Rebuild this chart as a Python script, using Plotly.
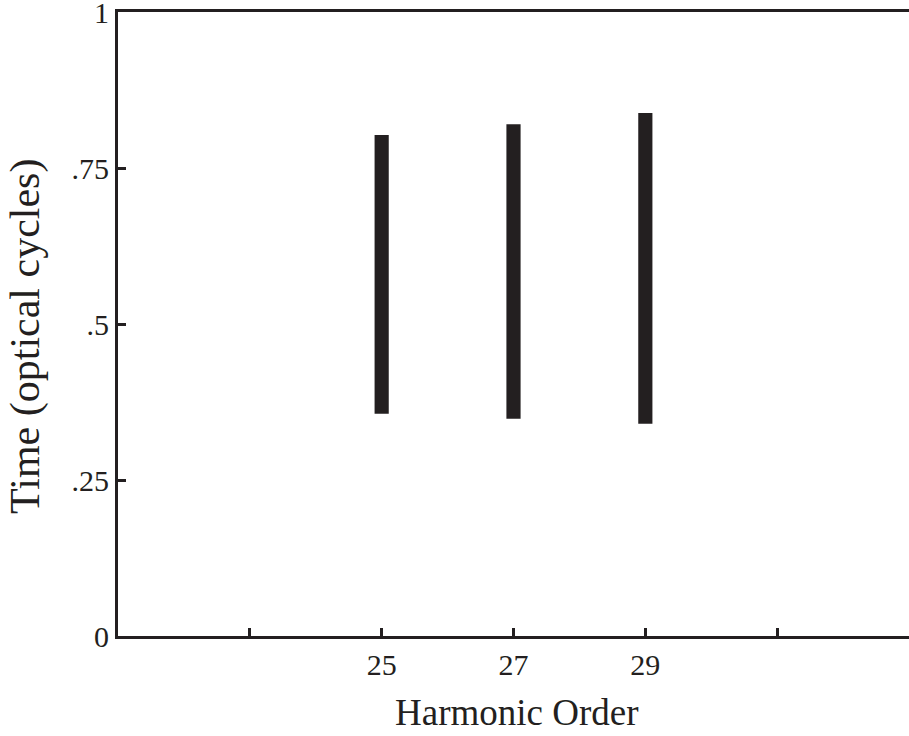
import plotly.graph_objects as go

harmonics = [25, 27, 29]
t_start = [0.356, 0.348, 0.340]
t_end = [0.803, 0.820, 0.838]

x_tickvals = [23, 25, 27, 29, 31]
x_ticktext = ["", "25", "27", "29", ""]
y_tickvals = [0, 0.25, 0.5, 0.75, 1]
y_ticktext = ["0", ".25", ".5", ".75", "1"]

ink = "#231f20"
font = "Liberation Serif"

fig = go.Figure()
fig.add_trace(go.Bar(
    x=harmonics,
    base=t_start,
    y=[e - s for s, e in zip(t_start, t_end)],
    width=0.215,
    marker=dict(color=ink, line=dict(width=0)),
    hoverinfo="skip",
))

fig.update_layout(
    width=909, height=736,
    margin=dict(l=118, r=0, t=12, b=100, autoexpand=False),
    paper_bgcolor="white", plot_bgcolor="white",
    showlegend=False,
    font=dict(family=font, color=ink),
    xaxis=dict(
        range=[21, 33], tickvals=x_tickvals, ticktext=x_ticktext,
        showgrid=False, zeroline=False, automargin=False,
        showline=True, linecolor=ink, linewidth=3, mirror=True,
        ticks="inside", ticklen=8, tickwidth=3, tickcolor=ink,
        tickfont=dict(family=font, size=30, color=ink),
        ticklabelstandoff=0,
        ticklabeloverflow="allow",
    ),
    yaxis=dict(
        range=[0, 1], tickvals=y_tickvals, ticktext=y_ticktext,
        showgrid=False, zeroline=False, automargin=False,
        showline=True, linecolor=ink, linewidth=3,
        ticks="inside", ticklen=8, tickwidth=3, tickcolor=ink,
        tickfont=dict(family=font, size=30, color=ink),
        ticklabelstandoff=0,
        ticklabeloverflow="allow",
    ),
    annotations=[
        dict(text="Harmonic Order", xref="paper", yref="paper",
             x=0.504, y=-0.122, xanchor="center", yanchor="middle",
             showarrow=False, font=dict(family=font, size=37, color=ink)),
        dict(text="Time (optical cycles)", xref="paper", yref="paper",
             x=-0.117, y=0.48, xanchor="center", yanchor="middle",
             textangle=-90,
             showarrow=False, font=dict(family=font, size=42, color=ink)),
    ],
)

fig.write_html("out.html")
